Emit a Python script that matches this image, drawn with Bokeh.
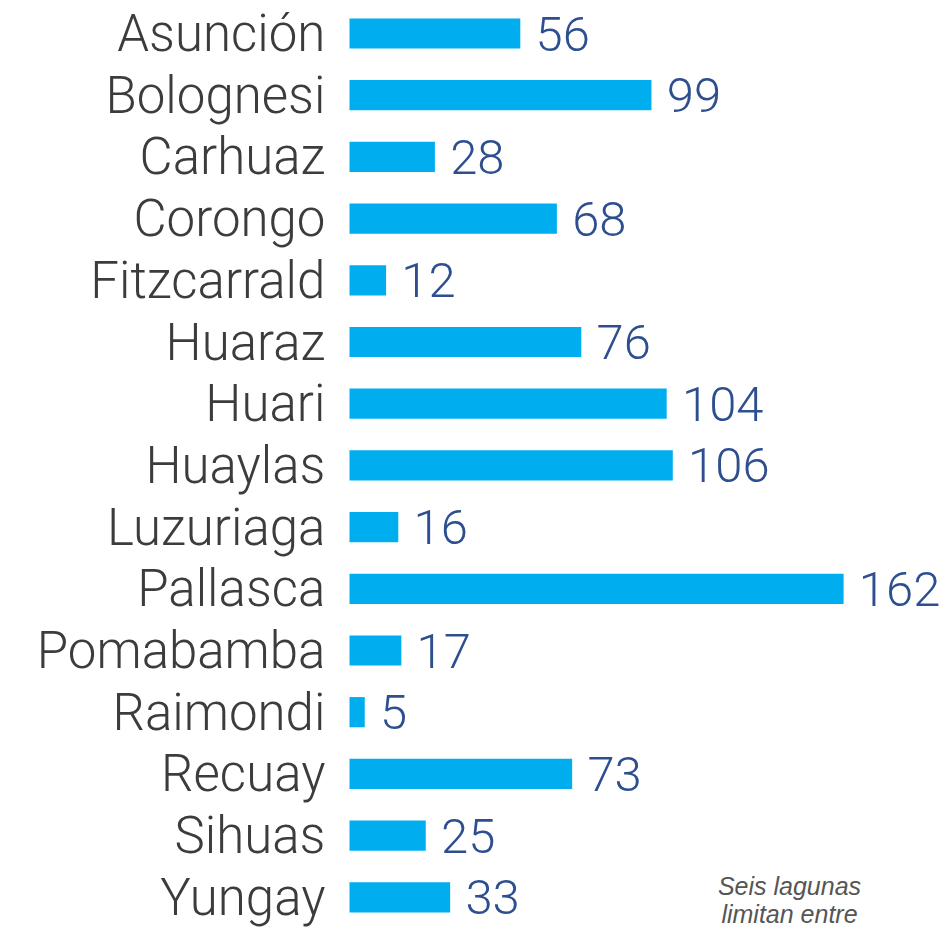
from bokeh.plotting import figure
from bokeh.models import ColumnDataSource, Range1d, Label
from bokeh.core.properties import value
from bokeh.embed import file_html
from bokeh.resources import INLINE

provincias = ["Asunción", "Bolognesi", "Carhuaz", "Corongo", "Fitzcarrald", "Huaraz",
              "Huari", "Huaylas", "Luzuriaga", "Pallasca", "Pomabamba", "Raimondi",
              "Recuay", "Sihuas", "Yungay"]
lagunas = [56, 99, 28, 68, 12, 76, 104, 106, 16, 162, 17, 5, 73, 25, 33]

W, H = 943, 931
scale = 3.05
x0 = -349 / scale
x1 = x0 + W / scale
row = 61.7
ytop = -33 / row
ybot = (H - 33) / row

src = ColumnDataSource(dict(
    idx=list(range(len(provincias))),
    name=provincias,
    val=lagunas,
    lbl=[str(v) for v in lagunas],
    lblx=[v + 5.0 for v in lagunas],
    namex=[-7.9] * len(provincias),
))

p = figure(width=W, height=H, output_backend="svg", toolbar_location=None,
           x_range=Range1d(x0, x1), y_range=Range1d(ybot, ytop),
           min_border=0, outline_line_color=None)
p.axis.visible = False
p.grid.visible = False
p.background_fill_color = "white"
p.border_fill_color = "white"

p.hbar(y="idx", left=0, right="val", height=0.49, source=src,
       fill_color="#00AEEF", line_color=None)

font = value("Roboto Light, Roboto, sans-serif")
p.text(x="namex", y="idx", text="name", source=src, text_align="right",
       text_baseline="middle", text_font=font, text_font_size="51px",
       text_color="#3c3c3c")
p.text(x="lblx", y="idx", text="lbl", source=src, text_align="left",
       text_baseline="middle", text_font=font, text_font_size="49px",
       text_color="#2E4F8F")

for txt, yy in [("Seis lagunas", 46), ("limitan entre", 18)]:
    p.add_layout(Label(x=789, y=yy, x_units="screen", y_units="screen", text=txt,
                       text_align="center", text_baseline="middle",
                       text_font="Liberation Sans", text_font_style="italic",
                       text_font_size="25px", text_color="#555555"))

open("out.html", "w").write(file_html(p, INLINE))
